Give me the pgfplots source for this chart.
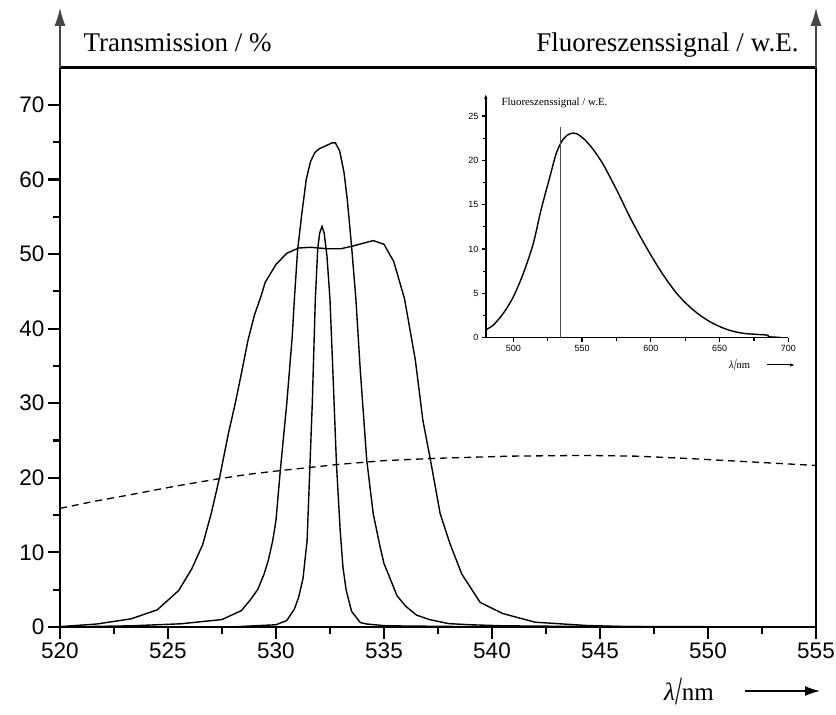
\documentclass[border=0pt]{standalone}
\usepackage{fontspec}
\setmainfont{Liberation Serif}
\newfontfamily\arial{Liberation Sans}
\usepackage{graphicx}
\usepackage{pgfplots}
\usepackage{pgfplotstable}
\pgfplotsset{compat=1.18}
\usetikzlibrary{arrows.meta}

\pgfplotstableread{
x y
520.0 0.05
521.7 0.4
523.3 1.1
524.5 2.3
525.5 4.9
526.1 7.8
526.6 11.0
527.0 15.2
527.4 20.2
527.8 26.0
528.1 29.8
528.4 34.0
528.7 38.4
529.0 41.8
529.3 44.3
529.5 46.2
530.0 48.6
530.5 50.1
531.05 50.8
531.6 50.9
532.4 50.7
533.0 50.7
533.6 51.1
534.5 51.8
535.0 51.3
535.45 49.0
535.95 44.0
536.45 35.8
536.8 27.7
537.15 22.4
537.6 15.2
538.05 11.2
538.6 7.1
539.45 3.3
540.5 1.8
542.0 0.64
544.4 0.2
546.0 0.07
555.0 0.0
}\wide

\pgfplotstableread{
x y
520.0 0.0
523.3 0.16
525.6 0.43
527.5 1.0
528.4 2.2
528.8 3.6
529.15 5.0
529.45 7.1
529.65 9.0
529.85 11.6
530.0 14.3
530.2 21.0
530.5 30.0
530.75 38.9
530.85 43.9
531.0 50.5
531.2 55.5
531.4 60.0
531.6 62.4
531.8 63.6
532.0 64.1
532.6 64.9
532.75 64.9
532.95 63.8
533.15 60.9
533.3 57.3
533.5 51.0
533.7 43.9
533.9 34.5
534.2 22.4
534.5 15.2
534.8 11.0
535.0 8.5
535.2 7.1
535.6 4.2
536.0 2.8
536.5 1.6
537.1 1.0
538.0 0.45
539.0 0.3
540.5 0.16
545.0 0.05
555.0 0.0
}\middle

\pgfplotstableread{
x y
520.0 0.0
528.0 0.02
530.0 0.3
530.5 0.87
530.85 2.4
531.05 4.0
531.25 6.5
531.44 11.6
531.55 20.0
531.68 30.0
531.82 43.9
531.93 50.6
532.02 52.8
532.13 53.7
532.23 52.8
532.36 49.7
532.5 43.9
532.65 33.0
532.8 21.8
532.97 13.0
533.1 8.0
533.25 4.9
533.5 2.1
533.9 0.6
534.2 0.4
535.1 0.16
540.0 0.02
555.0 0.0
}\narrow

\pgfplotstableread{
x y
520 15.9
521.5 16.8
523.2 17.7
525.2 18.8
527.2 19.8
528.8 20.5
530.3 21.0
532.9 21.8
535.0 22.3
537.3 22.6
540.8 22.9
544.3 23.0
546.7 22.9
549.0 22.6
552.5 22.05
555 21.65
}\fluomain

\pgfplotstableread{
x y
480.5 0.94
485.5 1.43
492.7 2.74
500 4.6
507.3 7.26
514.5 10.6
520 14.3
526.7 18.2
531.5 20.9
536.4 22.4
541.2 23.0
546.1 23.0
552.1 22.3
558.2 21.2
565.5 19.5
575.2 16.65
584.8 13.6
594.5 10.8
606.7 7.63
618.8 5.0
630.9 3.12
643.0 1.8
655.2 0.94
667.3 0.49
684.2 0.30
685.5 0.11
694 0.04
}\fluoinset

\begin{document}
\begin{tikzpicture}
\begin{axis}[
  at={(60pt,88pt)}, anchor=south west,
  scale only axis, width=756pt, height=559.5pt,
  xmin=520, xmax=555, ymin=0, ymax=75,
  xtick={520,525,...,555}, minor xtick={522.5,527.5,...,552.5},
  ytick={0,10,...,70}, minor ytick={5,15,...,65},
  xtick pos=bottom, ytick pos=left, tick align=outside,
  major tick length=12pt, minor tick length=7pt,
  every tick/.style={black, line width=2.2pt},
  axis line style={line width=2.5pt},
  tick label style={font=\arial\fontsize{22.5}{22.5}\selectfont},
  /pgf/number format/assume math mode=true,
  /pgf/number format/1000 sep={},
  clip=false,
]
\addplot[black, line width=1.4pt] table {\wide};
\addplot[black, line width=1.4pt] table {\middle};
\addplot[black, line width=1.4pt] table {\narrow};
\addplot[black, line width=1.3pt, dash pattern=on 7pt off 5pt] table {\fluomain};
\draw[line width=1.5pt, gray!55!black, -{Latex[length=18pt,width=11pt]}] (axis cs:520,75) -- (axis cs:520,83);
\draw[line width=1.5pt, gray!55!black, -{Latex[length=18pt,width=11pt]}] (axis cs:555,75) -- (axis cs:555,83);
\end{axis}

\begin{axis}[
  at={(485.8pt,377.3pt)}, anchor=south west,
  scale only axis, width=302.5pt, height=243.9pt,
  xmin=480, xmax=700, ymin=0, ymax=27.5,
  axis x line=bottom, axis y line=left,
  x axis line style={-, line width=1.4pt},
  y axis line style={-{Latex[length=5pt,width=3.5pt]}, line width=1.4pt},
  xtick={500,550,...,700}, minor xtick={525,575,625,675},
  ytick={0,5,...,25}, minor ytick={2.5,7.5,...,22.5},
  tick align=outside, major tick length=4pt, minor tick length=3pt,
  every tick/.style={black, line width=1.2pt},
  tick label style={font=\arial\fontsize{9}{9}\selectfont},
  /pgf/number format/assume math mode=true,
  clip=false,
]
\addplot[black, line width=1.4pt, smooth] table {\fluoinset};
\addplot[gray!60!black, line width=1.4pt] coordinates {(534.3,0) (534.3,23.8)};
\end{axis}

\node[anchor=base west, font=\fontsize{27}{27}\selectfont] at (80pt,663pt) {Transmission / \%};
\node[anchor=base east, font=\fontsize{27}{27}\selectfont] at (802pt,663pt) {Fluoreszenssignal / w.E.};
\node[anchor=west, font=\fontsize{10.9}{11}\selectfont] at (498pt,612pt) {Fluoreszenssignal / w.E.};
\node[anchor=base west, inner sep=0pt, font=\fontsize{10.5}{10.5}\selectfont] at (729pt,346pt) {\textit{λ}\raisebox{-1.5pt}{\scalebox{1}[1.6]{/}}nm};
\draw[line width=1pt, -{Latex[length=5pt,width=3.5pt]}] (767pt,350pt) -- (795pt,350pt);
\node[anchor=base west, inner sep=0pt, font=\fontsize{25}{25}\selectfont] at (664pt,14pt) {\textit{λ}\raisebox{-4pt}{\scalebox{1}[1.6]{/}}nm};
\draw[line width=1.6pt, -{Latex[length=15pt,width=10pt]}] (745pt,24pt) -- (820pt,24pt);

\pgfresetboundingbox
\path (0pt,0pt) rectangle (836pt,715pt);
\end{tikzpicture}
\end{document}
